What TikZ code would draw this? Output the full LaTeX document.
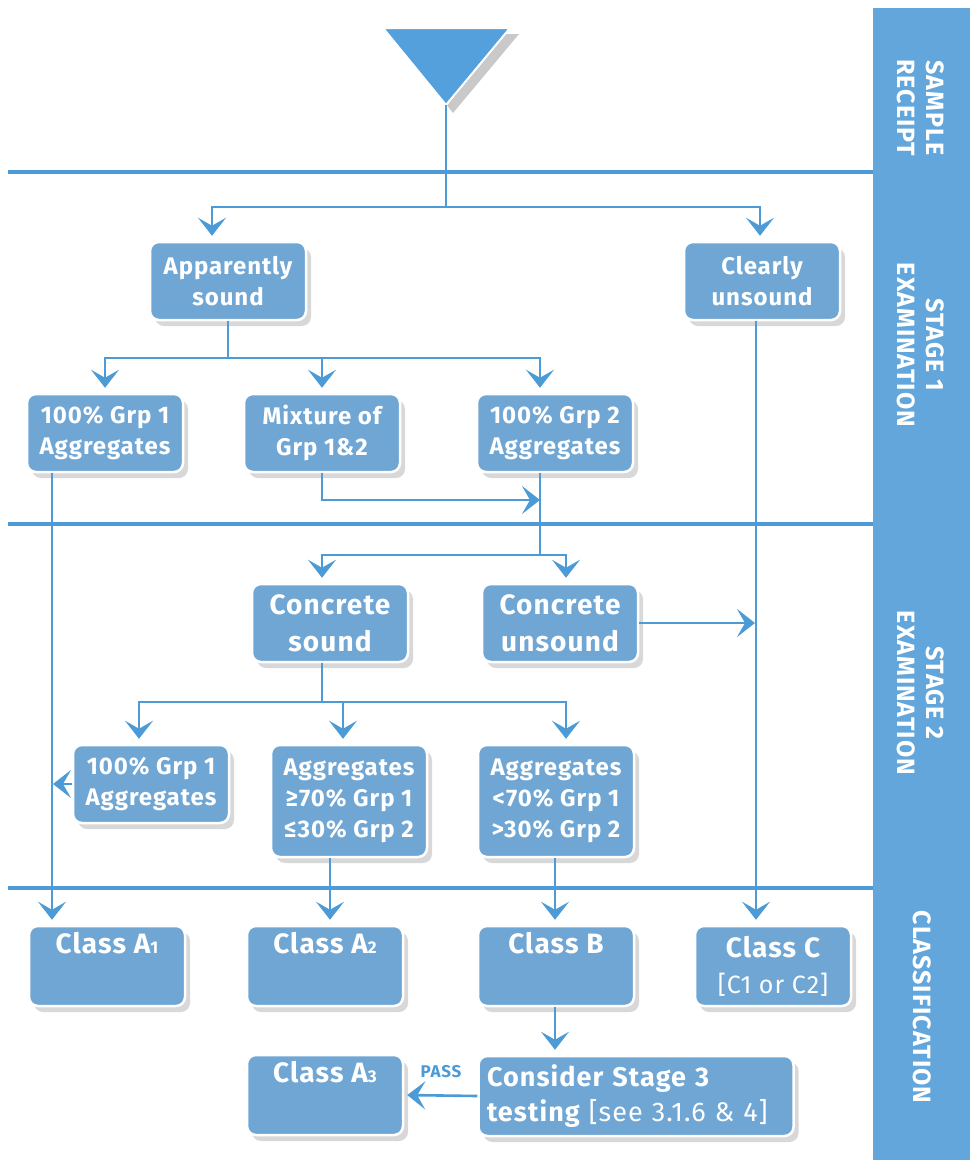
\documentclass[tikz,border=0pt]{standalone}
\usepackage{fontspec}
\setmainfont{Fira Sans}
\newfontfamily\bx{Fira Sans}[LetterSpace=4]
\usetikzlibrary{arrows.meta,shadows,calc}
\definecolor{lineblue}{RGB}{76,155,214}
\definecolor{boxblue}{RGB}{111,166,212}
\definecolor{sideblue}{RGB}{98,166,219}
\definecolor{triblue}{RGB}{84,160,220}
\newcommand\smallsub[1]{{\fontsize{17}{17}\selectfont #1}}
\begin{document}
\begin{tikzpicture}[x=1pt,y=-1pt,
  box/.style={draw=white, line width=2.5pt, fill=boxblue, rounded corners=9pt, text=white,
    font=\bx\fontsize{24}{31}\selectfont\bfseries, align=center, inner sep=0pt,
    minimum width=156pt, minimum height=78pt,
    drop shadow={shadow xshift=5pt, shadow yshift=-6pt, opacity=0.3}},
  classbox/.style={box, minimum height=80pt, font=\bx\fontsize{28}{36}\selectfont\bfseries},
  conn/.style={draw=lineblue, line width=2.6pt},
  arr/.style={conn, -{Stealth[length=18pt,width=28pt,inset=8pt]}, shorten >=5pt},
  sep/.style={draw=lineblue, line width=4pt},
  side/.style={text=white, font=\bx\fontsize{25}{29}\selectfont\bfseries, align=center, rotate=-90}
]
\useasboundingbox (0,0) rectangle (970,1160);
\fill[white] (0,0) rectangle (970,1160);
% sidebar
\fill[sideblue] (873,8) rectangle (970,1160);
\node[side] (s0) at (921,108) {SAMPLE\\RECEIPT};
\node[side] (s1) at (921,345) {STAGE 1\\EXAMINATION};
\node[side] (s2) at (921,693) {STAGE 2\\EXAMINATION};
\node[side] (s3) at (922,1007) {CLASSIFICATION};
% separators
\draw[sep] (8,172) -- (873,172);
\draw[sep] (8,524) -- (873,524);
\draw[sep] (8,888) -- (873,888);
% triangle
\fill[black!60, opacity=0.35] (392,34) -- (519,34) -- (453,113) -- cycle;
\draw[white, line width=2pt, fill=triblue] (383,28) -- (510,28) -- (446,105) -- cycle;
\coordinate (tri) at (446,105);

% nodes
\node[box] (app) at (228,281) {Apparently\\sound};
\node[box] (clr) at (762,281) {Clearly\\unsound};
\node[box] (g1) at (105,433) {100\% Grp 1\\Aggregates};
\node[box] (mix) at (322,433) {Mixture of\\Grp 1\&2};
\node[box] (g2) at (555,433) {100\% Grp 2\\Aggregates};
\node[box, font=\bx\fontsize{28}{37}\selectfont\bfseries] (cs) at (330,623) {Concrete\\sound};
\node[box, font=\bx\fontsize{28}{37}\selectfont\bfseries] (cu) at (560,623) {Concrete\\unsound};
\node[box] (h1) at (151,784) {100\% Grp 1\\Aggregates};
\node[box, minimum height=112pt] (ag70) at (349,801) {Aggregates\\≥70\% Grp 1\\≤30\% Grp 2};
\node[box, minimum height=112pt] (ag30) at (556,801) {Aggregates\\<70\% Grp 1\\>30\% Grp 2};
\node[classbox] (A1) at (107,966) {Class A\smallsub{1}\\\strut};
\node[classbox] (A2) at (325,966) {Class A\smallsub{2}\\\strut};
\node[classbox] (B) at (556,966) {Class B\\\strut};
\node[classbox] (C) at (773,966) {Class C\\{\mdseries\fontsize{25}{36}\selectfont [C1 or C2]}};
\node[classbox] (A3) at (325,1095) {Class A\smallsub{3}\\\strut};
\node[box, minimum height=80pt, minimum width=315pt, text width=298pt, align=left,
  font=\bx\fontsize{27}{35}\selectfont\bfseries] (cons) at (636,1096)
  {Consider Stage 3\\testing {\mdseries [see 3.1.6 \& 4]}};
\node[text=lineblue, font=\bx\fontsize{17}{17}\selectfont\bfseries] (pass) at (441,1072) {PASS};

% helper coordinates
\coordinate (j0) at (446,207);
\coordinate (j1) at (228,358);
\coordinate (j3) at (540,500);
\coordinate (j2) at (540,555);
\coordinate (j4) at (322,702);
\coordinate (vx) at (756,0);
\coordinate (lx) at (52,0);
\coordinate (x2) at (330,0);
\coordinate (xb) at (555,0);

% connectors
\draw[conn] (tri) -- (j0);
\draw[arr] (j0) -| ([xshift=-16pt]app.north);
\draw[arr] (j0) -| ([xshift=-2pt]clr.north);
\draw[conn] (app.south) -- (j1);
\draw[arr] (j1) -| (g1.north);
\draw[arr] (j1) -| (mix.north);
\draw[arr] (j1) -| ([xshift=-15pt]g2.north);
\draw[arr, shorten >=0pt] (mix.south) |- (j3);
\draw[conn] ([xshift=-15pt]g2.south) -- (j2);
\draw[arr] (j2) -| ([xshift=-8pt]cs.north);
\draw[arr] (j2) -| ([xshift=6pt]cu.north);
\draw[arr] (clr.south -| vx) -- (C.north -| vx);
\draw[arr, shorten >=1pt] (cu.east) -- (cu.east -| vx);
\draw[conn] ([xshift=-8pt]cs.south) -- (j4);
\draw[arr] (j4) -| ([xshift=-12pt]h1.north);
\draw[arr] (j4) -| ([xshift=-6pt]ag70.north);
\draw[arr] (j4) -| ([xshift=10pt]ag30.north);
\draw[arr] (g1.south -| lx) -- (A1.north -| lx);
\draw[arr, shorten >=1pt] (h1.west) -- (h1.west -| lx);
\draw[arr] (ag70.south -| x2) -- (A2.north -| x2);
\draw[arr] (ag30.south -| xb) -- (B.north -| xb);
\draw[arr] (B.south -| xb) -- (cons.north -| xb);
\draw[arr, shorten >=3pt] (cons.west) -- (A3.east);
\end{tikzpicture}
\end{document}
